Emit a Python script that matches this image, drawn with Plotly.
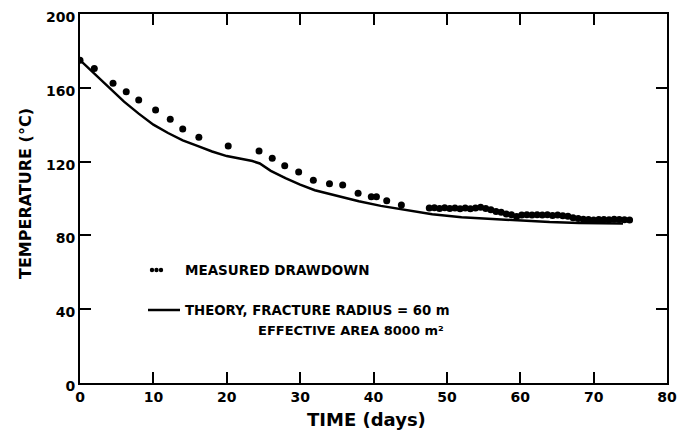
import plotly.graph_objects as go

# Measured drawdown (days, °C)
meas_t = [0, 1.95, 4.5, 6.3, 8.0, 10.3, 12.3, 14.0, 16.2, 20.2, 24.4, 26.2, 27.9, 29.8,
          31.8, 34.0, 35.8, 37.9, 39.7, 40.4, 41.8, 43.8,
          47.6, 48.3, 49.0, 49.7, 50.4, 51.1, 51.8, 52.5, 53.2, 53.9, 54.6, 55.3, 56.0,
          56.7, 57.4, 58.1, 58.8, 59.5, 60.2, 60.9, 61.6, 62.3, 63.0, 63.7, 64.4, 65.1,
          65.8, 66.5, 67.2, 67.9, 68.6, 69.3, 70.0, 70.7, 71.4, 72.1, 72.8, 73.5, 74.2, 74.9]
meas_T = [175, 170.5, 162.4, 157.9, 153.4, 148, 142.9, 137.7, 133.2, 128.5, 125.7, 121.8, 117.8, 114.4,
          109.9, 108.0, 107.3, 102.8, 101, 101, 98.8, 96.5,
          94.8, 95.0, 94.6, 95.0, 94.6, 94.8, 94.5, 94.8, 94.4, 94.8, 95.2, 94.6, 93.9,
          93.0, 92.5, 91.6, 91.2, 90.2, 91.0, 91.2, 91.0, 91.2, 91.0, 91.2, 90.8, 91.0,
          90.6, 90.4, 89.6, 89.2, 88.8, 88.6, 88.4, 88.6, 88.6, 88.5, 88.7, 88.6, 88.5, 88.4]

# Theory curve
theo_t = [0, 2, 4, 6, 8, 10, 12, 14, 16, 18, 20, 22, 23.5, 24.5, 26, 28, 30, 32, 35, 38,
          41, 44, 48, 52, 56, 60, 64, 68, 72, 74]
theo_T = [175, 167.5, 159.5, 152.5, 146, 140, 135.5, 131.5, 128.5, 125.5, 123, 121.5, 120.3,
          119, 115, 111, 107.5, 104.5, 101.5, 98.5, 96, 94, 91.5, 89.8, 88.8, 87.8, 87.2,
          86.7, 86.4, 86.4]

x_ticks = [0, 10, 20, 30, 40, 50, 60, 70, 80]
y_ticks = [0, 40, 80, 120, 160, 200]

FONT = "DejaVu Sans"
W, H = 687, 439
OFF = 8  # page body margin
L, R, T, B = 80 - OFF, 667 - OFF, 14 - OFF, 383 - OFF
PW, PH = R - L, B - T


def px(x):
    return (x - OFF - L) / PW


def py(y):
    return (B - (y - OFF)) / PH


fig = go.Figure()
fig.add_trace(go.Scatter(x=theo_t, y=theo_T, mode="lines",
                         line=dict(color="black", width=2.5), showlegend=False))
fig.add_trace(go.Scatter(x=meas_t, y=meas_T, mode="markers",
                         marker=dict(color="black", size=7), showlegend=False))


def label(text, x, y, size, xanchor="left", angle=0):
    fig.add_annotation(xref="paper", yref="paper", x=px(x), y=py(y), text=text,
                       showarrow=False, xanchor=xanchor, yanchor="middle", textangle=angle,
                       font=dict(family=FONT, size=size, color="black", weight="bold"))


# Legend key: three small dots and a line sample
for cx in (152, 156.5, 161):
    fig.add_shape(type="circle", xref="paper", yref="paper",
                  x0=px(cx - 2.2), x1=px(cx + 2.2), y0=py(270 + 2.2), y1=py(270 - 2.2),
                  fillcolor="black", line=dict(width=0))
label("MEASURED DRAWDOWN", 183, 270, 13.5)
fig.add_shape(type="line", xref="paper", yref="paper",
              x0=px(148), x1=px(180), y0=py(310), y1=py(310),
              line=dict(color="black", width=2.5))
label("THEORY, FRACTURE RADIUS = 60 m", 183, 310, 13.3)
label("EFFECTIVE AREA 8000 m²", 256, 330, 13)

# Axis titles
label("TIME (days)", 366, 419, 18, xanchor="center")
label("TEMPERATURE (°C)", 25, 194, 16, xanchor="center", angle=-90)

axis_common = dict(showline=True, linecolor="black", linewidth=2, mirror="ticks",
                   ticks="inside", ticklen=11, tickwidth=2, tickcolor="black",
                   showgrid=False, zeroline=False, automargin=False,
                   ticklabeloverflow="allow",
                   tickfont=dict(family=FONT, size=14, color="black", weight="bold"))

fig.update_xaxes(range=[0, 80], tickvals=x_ticks, ticktext=[str(v) for v in x_ticks],
                 **axis_common)
fig.update_yaxes(range=[0, 200], tickvals=y_ticks, ticktext=[str(v) for v in y_ticks],
                 ticklabelshift=3, **axis_common)

fig.update_layout(width=W, height=H, margin=dict(l=L, r=W - R, t=T, b=H - B),
                  paper_bgcolor="white", plot_bgcolor="white")

fig.write_html("out.html")
